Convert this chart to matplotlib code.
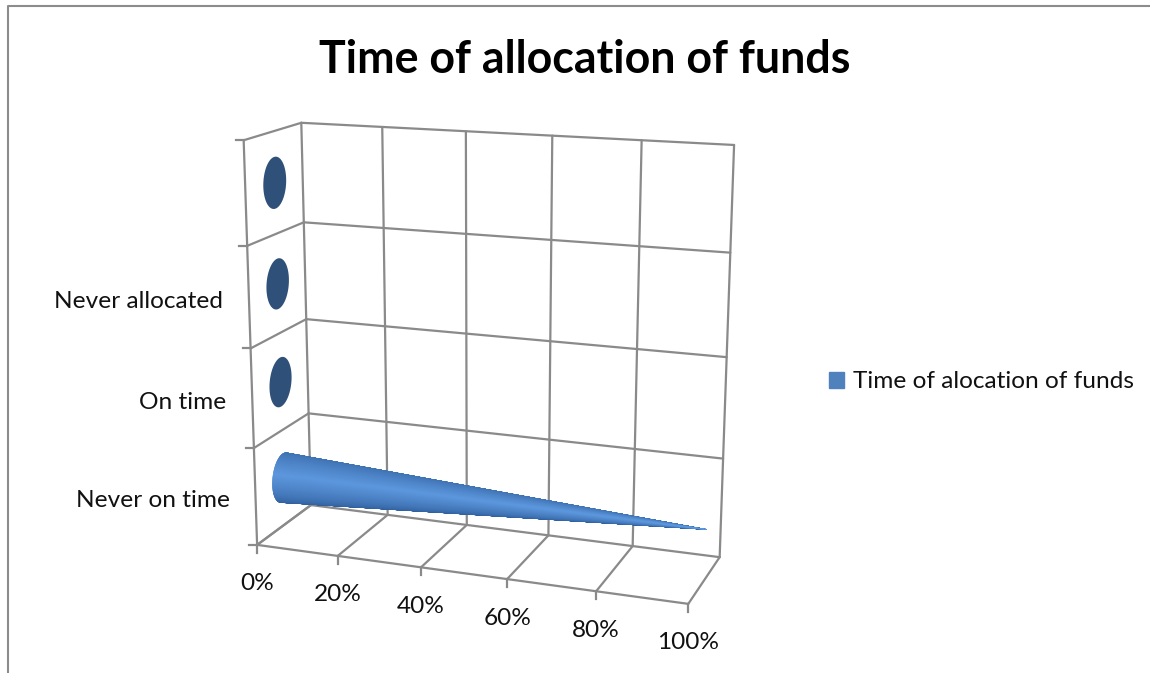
import numpy as np
import matplotlib.pyplot as plt
from matplotlib.collections import PolyCollection
from matplotlib.patches import Patch, Polygon

plt.rcParams['font.family'] = ['Lato', 'DejaVu Sans']

title = 'Time of allocation of funds'
legend_label = 'Time of alocation of funds'
categories = ['Never on time', 'On time', 'Never allocated', '']
values = [100, 0, 0, 0]
x_ticks = [0, 20, 40, 60, 80, 100]

GRID = '#8a8a8a'
TEXT = '#111111'
LABEL_SIZE = 17.6

# box corners in the picture: (x, height, depth) -> pixel, used to fit the camera
corners_3d = [(0, 1, 1), (1, 1, 1), (0, 0, 1), (1, 0, 1), (0, 1, 0), (0, 0, 0), (1, 0, 0)]
corners_px = [(302, 123), (734, 145), (310, 505), (720, 557), (243, 140), (258, 545), (688, 604)]


def fit_camera(pts, px):
    rows = []
    for (a, b, c), (u, v) in zip(pts, px):
        rows.append([a, b, c, 1, 0, 0, 0, 0, -u * a, -u * b, -u * c, -u])
        rows.append([0, 0, 0, 0, a, b, c, 1, -v * a, -v * b, -v * c, -v])
    return np.linalg.svd(np.array(rows))[2][-1].reshape(3, 4)


cam = fit_camera(corners_3d, corners_px)


def project(x, y, z):
    x, y, z = np.broadcast_arrays(x, y, z)
    p = cam @ np.array([x, y, z, np.ones_like(x)], dtype=float)
    return p[0] / p[2], p[1] / p[2]


fig = plt.figure(figsize=(11.5, 6.73), dpi=100)
ax = fig.add_axes([0, 0, 1, 1])
ax.set_xlim(0, 1150)
ax.set_ylim(673, 0)
ax.axis('off')

# chart border, only top and left show in the crop
ax.plot([7.5, 7.5, 1150], [673, 5.5, 5.5], color='#8c8c8c', lw=1.5)


def seg(a, b):
    xs, ys = project([a[0], b[0]], [a[1], b[1]], [a[2], b[2]])
    ax.plot(xs, ys, color=GRID, lw=1.6, solid_capstyle='round', zorder=1)


n = len(categories)
for t in x_ticks:
    f = t / 100
    seg((f, 0, 1), (f, 1, 1))
    seg((f, 0, 0), (f, 0, 1))
    xs, ys = project(f, 0, 0)
    ax.plot([xs, xs], [ys, ys + 8], color=GRID, lw=1.6, zorder=1)
    ax.text(xs, ys + 39, '%d%%' % t, ha='center', va='center', fontsize=LABEL_SIZE, color=TEXT)
seg((0, 0, 0), (1, 0, 0))
seg((0, 0, 0), (0, 1, 0))

for i in range(n + 1):
    f = i / n
    seg((0, f, 1), (1, f, 1))
    seg((0, f, 0), (0, f, 1))
    xs, ys = project(0, f, 0)
    ax.plot([xs - 8, xs], [ys, ys], color=GRID, lw=1.6, zorder=1)

for i, name in enumerate(categories):
    xs, ys = project(0, (i + 0.5) / n, 0)
    ax.text(xs - 26, ys + 3.5, name, ha='right', va='center', fontsize=LABEL_SIZE, color=TEXT)

# cones, one per category
theta = np.linspace(0, 2 * np.pi, 361)
r_h = 0.063
r_d = 0.2
dark = np.array([0x2e, 0x5e, 0x9c]) / 255
light = np.array([0x5c, 0x96, 0xdc]) / 255

for i, v in enumerate(values):
    h = (i + 0.5) / n
    bx, by = project(0, h + r_h * np.sin(theta), 0.5 + r_d * np.cos(theta))
    if v == 0:
        ax.add_patch(Polygon(np.c_[bx, by], closed=True, fc='#2f5078', ec='none', zorder=3))
        continue
    tx, ty = project(v / 100, h, 0.5)
    cx, cy = project(0, h, 0.5)
    # offset of each base point across the cone axis gives the shading
    ux, uy = tx - cx, ty - cy
    norm = np.hypot(ux, uy)
    s = ((bx - cx) * (-uy) + (by - cy) * ux) / norm
    s = s / np.abs(s).max()
    order = np.argsort(-np.abs(s[:-1] + 0.1))
    polys = []
    cols = []
    for k in order:
        polys.append([(bx[k], by[k]), (bx[k + 1], by[k + 1]), (tx, ty)])
        w = np.clip(1 - np.abs(s[k] + 0.1) / 1.1, 0, 1) ** 0.6
        cols.append(dark + (light - dark) * w)
    # edges close the seams between the thin triangles
    ax.add_collection(PolyCollection(polys, facecolors=cols, edgecolors=cols, linewidths=0.35, zorder=3))

ax.text(584.5, 60, title, ha='center', va='center', fontsize=32.2, fontweight='bold', color='#000000')

ax.legend(handles=[Patch(color='#4f81bd', label=legend_label)], loc='center left',
          bbox_to_anchor=(829, 382), bbox_transform=ax.transData, frameon=False,
          fontsize=LABEL_SIZE, handlelength=0.61, handleheight=0.61, handletextpad=0.37,
          borderpad=0, borderaxespad=0, labelcolor=TEXT)

fig.savefig('out.png', dpi=100)
